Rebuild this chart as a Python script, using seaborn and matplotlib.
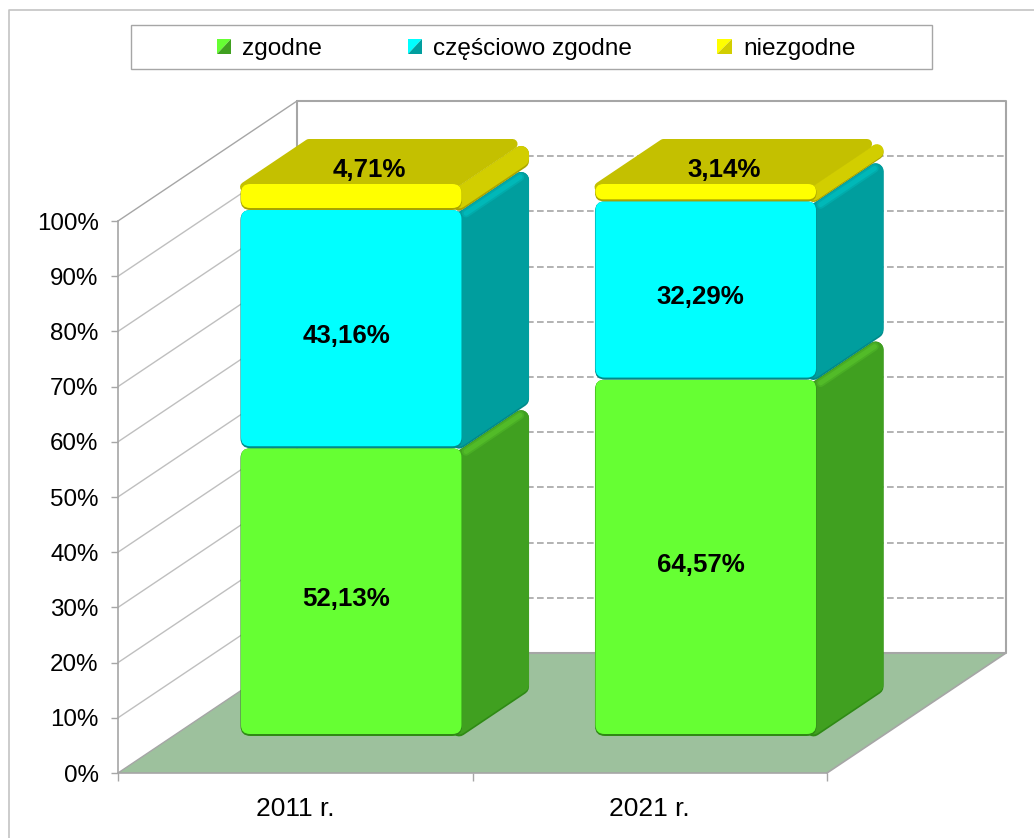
import numpy as np
import matplotlib
matplotlib.use("Agg")
import matplotlib.pyplot as plt
import seaborn as sns
from matplotlib.legend_handler import HandlerBase
from matplotlib.patches import FancyBboxPatch, Patch, Polygon
from matplotlib.transforms import Affine2D, IdentityTransform

years = ["2011 r.", "2021 r."]
series_names = ["zgodne", "częściowo zgodne", "niezgodne"]
zgodne = [52.13, 64.57]
czesciowo = [43.16, 32.29]
niezgodne = [4.71, 3.14]
value_labels = [["52,13%", "64,57%"], ["43,16%", "32,29%"], ["4,71%", "3,14%"]]
y_ticks = [0, 10, 20, 30, 40, 50, 60, 70, 80, 90, 100]

front_colors = ["#66FF33", "#00FFFF", "#FFFF00"]
side_colors = ["#40A020", "#009E9E", "#D2CE00"]
top_color = "#C4C000"
dark_colors = ["#2F8A15", "#008A8A", "#A8A400"]
light_colors = ["#60D030", "#00CCCC", "#DEDA00"]
GREY = "#A6A6A6"

W, H = 1034, 838
WALL_DX, WALL_DY = 179, 120
BAR_DX, BAR_DY = 56, 37
SIDE_DX, SIDE_DY = 67, 45
SLOPE = SIDE_DY / SIDE_DX

sns.set_theme(style="white")
plt.rcParams["font.family"] = ["Liberation Sans", "DejaVu Sans"]

px = IdentityTransform()


class SplitSquare(HandlerBase):
    def create_artists(self, legend, orig_handle, xdescent, ydescent, width, height, fontsize, trans):
        x0, y0 = -xdescent, -ydescent
        x1, y1 = x0 + width, y0 + height
        light = Polygon([(x0, y0), (x0, y1), (x1, y1)], facecolor=orig_handle.get_facecolor(), lw=0, transform=trans)
        dark = Polygon([(x0, y0), (x1, y0), (x1, y1)], facecolor=orig_handle.get_edgecolor(), lw=0, transform=trans)
        return [light, dark]


def rounded(x0, y0, x1, y1, r, color=None, z=1):
    return FancyBboxPatch((x0 + r, y0 + r), x1 - x0 - 2 * r, y1 - y0 - 2 * r,
                          boxstyle=f"round,pad={r},rounding_size={r}",
                          facecolor=color, edgecolor="none", transform=px, zorder=z, clip_on=False)


def side_face(ax, x1, y0, y1, color, r, z, lift=0):
    k = 1.2 * r
    verts = [(x1 - 3, y0 - 3 * SLOPE + k + lift),
             (x1 + SIDE_DX - r, y0 + (SIDE_DX - r) * SLOPE + k + lift),
             (x1 + SIDE_DX - r, y1 + (SIDE_DX - r) * SLOPE - k),
             (x1 - 3, y1 - 3 * SLOPE - k)]
    poly = Polygon(verts, facecolor=color, edgecolor=color, lw=2 * r * 0.72,
                   joinstyle="round", transform=px, zorder=z, clip_on=False)
    ax.add_patch(poly)


def top_face(ax, x0, x1, y1, color, z):
    r = 5
    s = 1.8 * r
    y_low, y_high = y1 - 3, y1 + SIDE_DY - r
    verts = [(x0 + (y_low - y1) / SLOPE + s, y_low), (x1 + (y_low - y1) / SLOPE - s, y_low),
             (x1 + (y_high - y1) / SLOPE - s, y_high), (x0 + (y_high - y1) / SLOPE + s, y_high)]
    ax.add_patch(Polygon(verts, facecolor=color, edgecolor=color, lw=2 * r * 0.72,
                         joinstyle="round", transform=px, zorder=z, clip_on=False))


def main():
    fig = plt.figure(figsize=(W / 100, H / 100), dpi=100)
    ax = fig.add_axes([118 / W, (H - 773) / H, 709 / W, 552 / H])
    ax.patch.set_alpha(0)
    ax.set_zorder(2)

    stack = np.array([zgodne, czesciowo, niezgodne])
    bottoms = np.vstack([np.zeros(2), np.cumsum(stack, axis=0)[:-1]])

    for i, name in enumerate(series_names):
        sns.barplot(x=years, y=stack[i], bottom=bottoms[i], color=front_colors[i], saturation=1,
                    width=0.625, errorbar=None, linewidth=0, ax=ax)

    ax.set_xlim(-0.5, 1.5)
    ax.set_ylim(0, 100)
    ax.set_yticks(y_ticks)
    ax.set_yticklabels([f"{t}%" for t in y_ticks], fontsize=17.4, color="black")
    ax.set_xticks([-0.5, 0.5, 1.5], minor=True)
    ax.tick_params(axis="x", which="minor", length=6, width=1, color=GREY, bottom=True)
    ax.tick_params(axis="x", which="major", length=0, labelsize=19, labelcolor="black", pad=17)
    ax.tick_params(axis="y", length=5, width=1, color=GREY, left=True, pad=9)
    for side in ["top", "right"]:
        ax.spines[side].set_visible(False)
    for side in ["left", "bottom"]:
        ax.spines[side].set_color(GREY)
        ax.spines[side].set_linewidth(1.2)

    # walls and floor, all worked out from the front plane of the axes
    (fx0, fy0), (fx1, fy1) = ax.transData.transform([(-0.5, 0), (1.5, 100)])
    floor = [(fx0, fy0), (fx1, fy0), (fx1 + WALL_DX, fy0 + WALL_DY), (fx0 + WALL_DX, fy0 + WALL_DY)]
    fig.add_artist(Polygon(floor, facecolor="#9DC19D", edgecolor="none", transform=px, zorder=0.5))
    fig.add_artist(plt.Line2D([fx1, fx1 + WALL_DX], [fy0, fy0 + WALL_DY], color=GREY, lw=1.2, transform=px, zorder=0.6))
    fig.add_artist(plt.Line2D([fx0, fx0 + WALL_DX], [fy0, fy0 + WALL_DY], color=GREY, lw=1, transform=px, zorder=0.6))
    fig.add_artist(plt.Line2D([fx0 + WALL_DX, fx1 + WALL_DX, fx1 + WALL_DX, fx0 + WALL_DX, fx0 + WALL_DX],
                              [fy1 + WALL_DY, fy1 + WALL_DY, fy0 + WALL_DY, fy0 + WALL_DY, fy1 + WALL_DY],
                              color=GREY, lw=1.5, transform=px, zorder=0.7))
    fig.add_artist(plt.Line2D([fx0, fx0 + WALL_DX], [fy1, fy1 + WALL_DY], color=GREY, lw=1, transform=px, zorder=0.7))
    for t in y_ticks[1:-1]:
        y = ax.transData.transform((0, t))[1]
        fig.add_artist(plt.Line2D([fx0, fx0 + WALL_DX], [y, y + WALL_DY], color="#BFBFBF", lw=1, transform=px, zorder=0.6))
        fig.add_artist(plt.Line2D([fx0 + WALL_DX, fx1 + WALL_DX], [y + WALL_DY, y + WALL_DY], color=GREY, lw=1.2,
                                  ls=(0, (4, 2)), transform=px, zorder=0.6))

    # turn each flat seaborn bar into a bevelled box
    bars = list(ax.patches)
    shift = Affine2D().translate(BAR_DX, BAR_DY)
    for i in range(3):
        for j in range(2):
            bar = bars[i * 2 + j]
            (x0, y0), (x1, y1) = (ax.transData + shift).transform(
                [(bar.get_x(), bar.get_y()), (bar.get_x() + bar.get_width(), bar.get_y() + bar.get_height())])
            z = 5 + i * 5
            r = min(8, (y1 - y0) / 2.6)
            side_face(ax, x1, y0, y1, dark_colors[i], r, z)
            side_face(ax, x1, y0, y1, side_colors[i], r, z + 0.1, lift=2)
            if i < 2:
                # soft light edge along the top of the side face
                lx = [x1 + 4, x1 + SIDE_DX - 9]
                ly = [y1 + 4 * SLOPE - 6, y1 + (SIDE_DX - 9) * SLOPE - 6]
                for lw, alpha in [(6, 0.3), (3.5, 0.4)]:
                    ax.plot(lx, ly, color=light_colors[i], lw=lw, alpha=alpha, solid_capstyle="round",
                            transform=px, clip_on=False, zorder=z + 0.2)
            else:
                top_face(ax, x0, x1, y1, top_color, z + 0.3)
            corner = min(10, (y1 - y0) / 2)
            ax.add_patch(rounded(x0, y0, x1, y1, corner, dark_colors[i], z + 1))
            bar.set_transform(ax.transData + shift)
            bar.set_zorder(z + 2)
            bar.set_clip_box(None)
            bar.set_clip_path(rounded(x0 + 0.5, y0 + 2, x1 - 0.5, y1, corner - 1))
            if i == 2:
                ax.text((x0 + x1) / 2 + 18, y1 + 14, value_labels[i][j], fontsize=18.6, fontweight="bold",
                        color="black", ha="center", va="center", transform=px, zorder=40)
            else:
                ax.text((x0 + x1) / 2 - 5, (y0 + y1) / 2 - 7, value_labels[i][j], fontsize=18.6, fontweight="bold",
                        color="black", ha="center", va="center", transform=px, zorder=40)

    handles = [Patch(facecolor=front_colors[i], edgecolor=side_colors[i]) for i in range(3)]
    fig.legend(handles, series_names, handler_map={Patch: SplitSquare()}, ncols=3, loc="center",
               bbox_to_anchor=(536 / W, (H - 49) / H), frameon=False, fontsize=17.6,
               handlelength=0.6, handleheight=0.6, handletextpad=0.44, columnspacing=3.5, labelcolor="black")
    fig.add_artist(plt.Rectangle((131, H - 69), 801, 44, facecolor="none", edgecolor=GREY, lw=1, transform=px))

    # outer chart frame
    fig.add_artist(plt.Line2D([9, 9, W], [0, H - 10, H - 10], color="#C4C4C4", lw=1.2, transform=px))

    fig.savefig("out.png", dpi=100, facecolor="white")


if __name__ == "__main__":
    main()
